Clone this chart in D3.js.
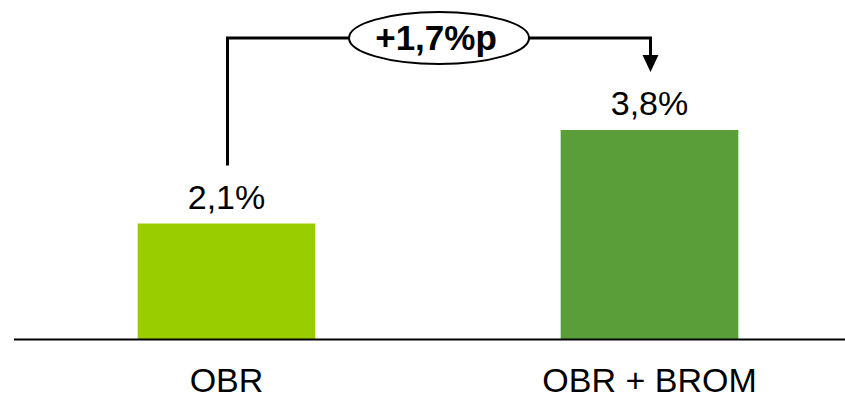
<!DOCTYPE html>
<html>
<head>
<meta charset="utf-8">
<script src="https://cdn.jsdelivr.net/npm/d3@7"></script>
<style>
  body { margin: 0; background: #fff; }
  text { font-family: Arial, "Liberation Sans", sans-serif; fill: #000; }
</style>
</head>
<body>
<div id="viz"></div>
<script>
var categories = ['OBR', 'OBR + BROM'];
var values = [2.1, 3.8];
var valueLabels = ['2,1%', '3,8%'];
var barColors = ['#9acd00', '#5a9e3a'];
var diffLabel = '+1,7%p';

var width = 845,
    height = 398,
    baseY = 339;

var svg = d3.select('#viz').append('svg')
    .attr('width', width)
    .attr('height', height);

var x = d3.scaleBand()
    .domain(categories)
    .range([15, 861])
    .paddingInner(0.58)
    .paddingOuter(0.29);

var y = d3.scaleLinear()
    .domain([0, 4])
    .range([baseY, baseY - 220]);

// bars
svg.selectAll('rect.bar')
    .data(values)
    .enter().append('rect')
        .attr('class', 'bar')
        .attr('x', function(d, i) { return x(categories[i]); })
        .attr('y', function(d) { return y(d); })
        .attr('width', x.bandwidth())
        .attr('height', function(d) { return y(0) - y(d); })
        .attr('fill', function(d, i) { return barColors[i]; });

// baseline
svg.append('line')
    .attr('x1', 14).attr('x2', width)
    .attr('y1', baseY + 0.5).attr('y2', baseY + 0.5)
    .attr('stroke', '#000')
    .attr('stroke-width', 2);

// value labels
svg.selectAll('text.val')
    .data(values)
    .enter().append('text')
        .attr('class', 'val')
        .attr('x', function(d, i) { return x(categories[i]) + x.bandwidth() / 2; })
        .attr('y', function(d) { return y(d) - 15; })
        .attr('text-anchor', 'middle')
        .style('font-size', '34px')
        .text(function(d, i) { return valueLabels[i]; });

// category labels
svg.selectAll('text.cat')
    .data(categories)
    .enter().append('text')
        .attr('class', 'cat')
        .attr('x', function(d) { return x(d) + x.bandwidth() / 2; })
        .attr('y', 392)
        .attr('text-anchor', 'middle')
        .style('font-size', '34px')
        .text(function(d) { return d; });

// difference bracket
var x1 = x(categories[0]) + x.bandwidth() / 2 + 1,
    x2 = x(categories[1]) + x.bandwidth() / 2 + 1,
    topY = 38,
    gap = 58;

svg.append('path')
    .attr('d', 'M' + x1 + ',' + (y(values[0]) - gap) +
               'V' + topY + 'H' + x2 + 'V' + (y(values[1]) - gap - 16))
    .attr('fill', 'none')
    .attr('stroke', '#000')
    .attr('stroke-width', 3);

svg.append('path')
    .attr('d', 'M' + (x2 - 8) + ',' + (y(values[1]) - gap - 17) +
               'L' + (x2 + 8) + ',' + (y(values[1]) - gap - 17) +
               'L' + x2 + ',' + (y(values[1]) - gap) + 'Z')
    .attr('fill', '#000');

var cx = (x1 + x2) / 2;
svg.append('ellipse')
    .attr('cx', cx)
    .attr('cy', topY)
    .attr('rx', 90)
    .attr('ry', 26)
    .attr('fill', '#fff')
    .attr('stroke', '#000')
    .attr('stroke-width', 2);

svg.append('text')
    .attr('x', cx - 3)
    .attr('y', topY + 12)
    .attr('text-anchor', 'middle')
    .style('font-size', '35px')
    .style('font-weight', 'bold')
    .text(diffLabel);
</script>
</body>
</html>
